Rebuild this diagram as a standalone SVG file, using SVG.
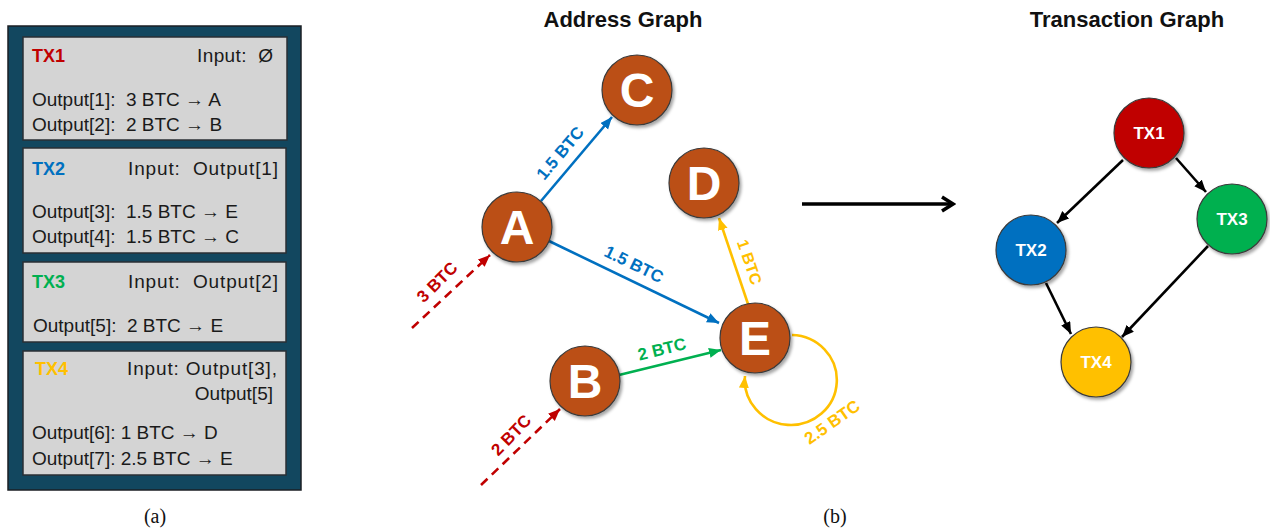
<svg xmlns="http://www.w3.org/2000/svg" width="1270" height="529" viewBox="0 0 1270 529">
<style>
.box{fill:#d4d4d4;stroke:#2a2f35;stroke-width:1.5}
.bt{font-family:"Liberation Sans",Arial,sans-serif;font-size:19px;fill:#1a1a1a;white-space:pre}
.tx{font-family:"Liberation Sans",Arial,sans-serif;font-size:18px;font-weight:bold}
.title{font-family:"Liberation Sans",Arial,sans-serif;font-size:22px;font-weight:bold;fill:#111;text-anchor:middle}
.cap{font-family:"Liberation Serif","Times New Roman",serif;font-size:20px;fill:#111;text-anchor:middle}
.node{fill:#bb4f16;stroke:#3a3a3a;stroke-width:1.2;filter:url(#sh)}
.nl{font-family:"Liberation Sans",Arial,sans-serif;font-size:48px;font-weight:bold;fill:#fff;text-anchor:middle}
.tn{stroke:#3a3a3a;stroke-width:1.2;filter:url(#sh)}
.tl{font-family:"Liberation Sans",Arial,sans-serif;font-size:17px;font-weight:bold;fill:#fff;text-anchor:middle}
.el{font-family:"Liberation Sans",Arial,sans-serif;font-size:17px;font-weight:bold;text-anchor:middle}
.e{fill:none;stroke-width:2.6}
</style>
<defs>
<filter id="sh" x="-30%" y="-30%" width="160%" height="160%">
<feDropShadow dx="2" dy="2.5" stdDeviation="1.5" flood-color="#000" flood-opacity="0.35"/>
</filter>
<marker id="mb" markerUnits="userSpaceOnUse" markerWidth="13" markerHeight="11" refX="12" refY="5" orient="auto"><path d="M0,0 L12,5 L0,10 z" fill="#0070c0"/></marker>
<marker id="mg" markerUnits="userSpaceOnUse" markerWidth="13" markerHeight="11" refX="12" refY="5" orient="auto"><path d="M0,0 L12,5 L0,10 z" fill="#00b050"/></marker>
<marker id="my" markerUnits="userSpaceOnUse" markerWidth="13" markerHeight="11" refX="12" refY="5" orient="auto"><path d="M0,0 L12,5 L0,10 z" fill="#ffc000"/></marker>
<marker id="mr" markerUnits="userSpaceOnUse" markerWidth="13" markerHeight="11" refX="12" refY="5" orient="auto"><path d="M0,0 L12,5 L0,10 z" fill="#c00000"/></marker>
<marker id="mk" markerUnits="userSpaceOnUse" markerWidth="13" markerHeight="11" refX="12" refY="5" orient="auto"><path d="M0,0 L12,5 L0,10 z" fill="#000"/></marker>
<marker id="mo" markerUnits="userSpaceOnUse" markerWidth="16" markerHeight="18" refX="13" refY="9" orient="auto"><path d="M2,2 L13,9 L2,16" fill="none" stroke="#000" stroke-width="3.5"/></marker>
</defs>
<rect width="1270" height="529" fill="#fff"/>

<g id="panel-a">
<rect x="8" y="26" width="293" height="464" fill="#12475f" stroke="#1b1f24" stroke-width="1.5"/>
<g id="tx1-box">
<rect class="box" x="23" y="37" width="264" height="103"/>
<text class="tx" x="32" y="62" fill="#c00000">TX1</text>
<text class="bt" x="197" y="62" textLength="76" lengthAdjust="spacing">Input:  Ø</text>
<text class="bt" x="32" y="106">Output[1]:  3 BTC → A</text>
<text class="bt" x="32" y="131">Output[2]:  2 BTC → B</text>
</g>
<g id="tx2-box">
<rect class="box" x="23" y="148" width="263" height="105"/>
<text class="tx" x="32" y="175" fill="#0070c0">TX2</text>
<text class="bt" x="128" y="175" textLength="150" lengthAdjust="spacing">Input:  Output[1]</text>
<text class="bt" x="32" y="218">Output[3]:  1.5 BTC → E</text>
<text class="bt" x="32" y="243">Output[4]:  1.5 BTC → C</text>
</g>
<g id="tx3-box">
<rect class="box" x="23" y="262" width="263" height="80"/>
<text class="tx" x="32" y="288" fill="#00b050">TX3</text>
<text class="bt" x="128" y="288" textLength="150" lengthAdjust="spacing">Input:  Output[2]</text>
<text class="bt" x="33" y="332">Output[5]:  2 BTC → E</text>
</g>
<g id="tx4-box">
<rect class="box" x="23" y="351" width="263" height="124"/>
<text class="tx" x="35" y="375" fill="#ffc000">TX4</text>
<text class="bt" x="127" y="375" textLength="150" lengthAdjust="spacing">Input: Output[3],</text>
<text class="bt" x="273" y="400" text-anchor="end">Output[5]</text>
<text class="bt" x="32" y="439">Output[6]: 1 BTC → D</text>
<text class="bt" x="32" y="465">Output[7]: 2.5 BTC → E</text>
</g>
<text class="cap" x="155" y="523">(a)</text>
</g>

<text class="title" x="623" y="27">Address Graph</text>
<text class="title" x="1127" y="27">Transaction Graph</text>
<text class="cap" x="835" y="523">(b)</text>

<g id="connectors">
<line class="e" x1="541" y1="201" x2="612" y2="117" stroke="#0070c0" marker-end="url(#mb)"/>
<line class="e" x1="549" y1="241" x2="719" y2="323" stroke="#0070c0" marker-end="url(#mb)"/>
<line class="e" x1="619" y1="375" x2="721" y2="350" stroke="#00b050" marker-end="url(#mg)"/>
<line class="e" x1="748" y1="304" x2="719" y2="218" stroke="#ffc000" marker-end="url(#my)"/>
<path class="e" d="M792 335 A46 45 0 1 1 745 376" stroke="#ffc000" marker-end="url(#my)"/>
<line class="e" x1="412" y1="328" x2="490" y2="255" stroke="#c00000" stroke-dasharray="9,6" marker-end="url(#mr)"/>
<line class="e" x1="481" y1="485" x2="560" y2="409" stroke="#c00000" stroke-dasharray="9,6" marker-end="url(#mr)"/>
<line x1="802" y1="204" x2="953" y2="204" stroke="#000" stroke-width="3.5" marker-end="url(#mo)"/>
<line class="e" x1="1123" y1="160" x2="1057" y2="223" stroke="#000" marker-end="url(#mk)"/>
<line class="e" x1="1176" y1="158" x2="1206" y2="192" stroke="#000" marker-end="url(#mk)"/>
<line class="e" x1="1046" y1="283" x2="1071" y2="334" stroke="#000" marker-end="url(#mk)"/>
<line class="e" x1="1208" y1="246" x2="1122" y2="337" stroke="#000" marker-end="url(#mk)"/>
<text class="el" fill="#0070c0" transform="translate(560,153) rotate(-50)" dy="6">1.5 BTC</text>
<text class="el" fill="#0070c0" transform="translate(634,264) rotate(26)" dy="6">1.5 BTC</text>
<text class="el" fill="#00b050" transform="translate(662,349) rotate(-14)" dy="6">2 BTC</text>
<text class="el" fill="#ffc000" transform="translate(750,262) rotate(71)" dy="6" style="font-size:16px">1 BTC</text>
<text class="el" fill="#ffc000" transform="translate(832,422) rotate(-35)" dy="6">2.5 BTC</text>
<text class="el" fill="#c00000" transform="translate(437,282) rotate(-45)" dy="6">3 BTC</text>
<text class="el" fill="#c00000" transform="translate(511,435) rotate(-46)" dy="6">2 BTC</text>
</g>

<g id="node-A"><circle class="node" cx="517" cy="227" r="35"/><text class="nl" x="517" y="244">A</text></g>
<g id="node-B"><circle class="node" cx="585" cy="381" r="35"/><text class="nl" x="585" y="398">B</text></g>
<g id="node-C"><circle class="node" cx="637" cy="90" r="35"/><text class="nl" x="637" y="107">C</text></g>
<g id="node-D"><circle class="node" cx="704" cy="183" r="35"/><text class="nl" x="704" y="200">D</text></g>
<g id="node-E"><circle class="node" cx="755" cy="338" r="35"/><text class="nl" x="755" y="355">E</text></g>

<g id="node-TX1"><circle class="tn" cx="1149" cy="133" r="35" fill="#c00000"/><text class="tl" x="1149" y="139">TX1</text></g>
<g id="node-TX2"><circle class="tn" cx="1031" cy="250" r="35" fill="#0070c0"/><text class="tl" x="1031" y="256">TX2</text></g>
<g id="node-TX3"><circle class="tn" cx="1232" cy="219" r="35" fill="#00b050"/><text class="tl" x="1232" y="225">TX3</text></g>
<g id="node-TX4"><circle class="tn" cx="1096" cy="362" r="35" fill="#ffc000"/><text class="tl" x="1096" y="368">TX4</text></g>
</svg>
